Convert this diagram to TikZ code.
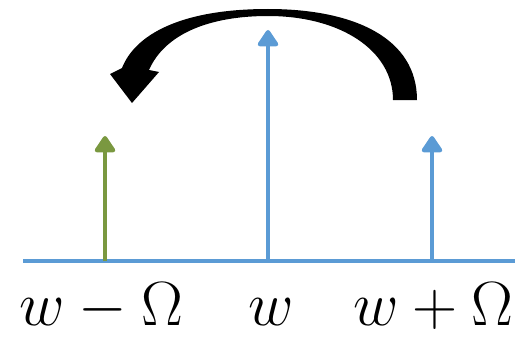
\documentclass[tikz,border=0pt]{standalone}
\usepackage{amsmath}
\usetikzlibrary{arrows.meta,positioning,calc}
\definecolor{axisblue}{RGB}{91,155,213}
\definecolor{sidegreen}{RGB}{122,152,64}

\begin{document}
\begin{tikzpicture}
\useasboundingbox (0,0) rectangle (10.48,6.72);
\tikzset{
    spike/.style={line width=2.3pt,-{Triangle[width=0.46cm,length=0.36cm,round]}},
    freq/.style={anchor=base,inner sep=0pt,font=\Huge,scale=1.43}
}
% frequency axis
\coordinate (axL) at (0.46,1.5);
\coordinate (axR) at (10.3,1.5);
\draw[axisblue,line width=2.3pt] (axL) -- (axR);
% spectral lines
\foreach \i/\x/\h/\c in {1/2.1/4.0/sidegreen, 2/5.36/6.12/axisblue, 3/8.64/4.0/axisblue} {
    \coordinate (b\i) at (\x,1.5);
    \coordinate (t\i) at (\x,\h);
    \draw[spike,\c] (b\i) -- (t\i);
}
\node[freq] (l1) at (2.02,0.22) {$w-\Omega$};
\node[freq] (l2) at (5.42,0.22) {$w$};
\node[freq] (l3) at (8.66,0.22) {$w+\Omega$};
% shift arrow
\fill[black] (8.34,4.72) .. controls (8.34,5.95) and (7.1,6.54) .. (5.36,6.54)
    .. controls (3.6,6.54) and (2.7,6.02) .. (2.44,5.36)
    -- (2.2,5.24) -- (2.64,4.66) -- (3.18,5.28) -- (2.98,5.32)
    .. controls (3.3,6.05) and (4.2,6.4) .. (5.36,6.4)
    .. controls (6.8,6.4) and (7.86,5.72) .. (7.86,4.72) -- cycle;
\end{tikzpicture}
\end{document}
